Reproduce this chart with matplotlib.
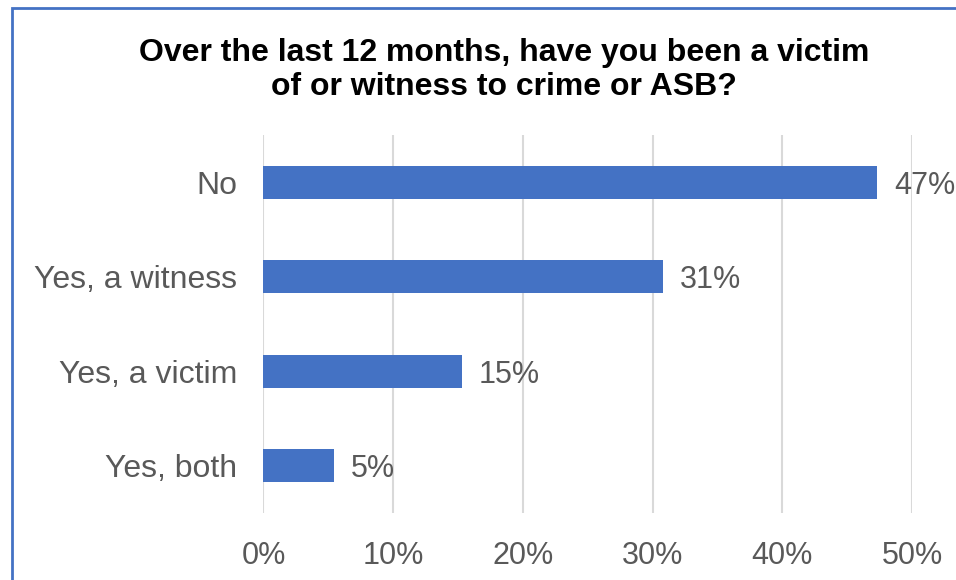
import matplotlib.pyplot as plt
from matplotlib.patches import Rectangle
from matplotlib.ticker import FuncFormatter

plt.rcParams['font.family'] = ['Liberation Sans', 'DejaVu Sans']

# survey answers, top to bottom
answers = ['No', 'Yes, a witness', 'Yes, a victim', 'Yes, both']
shares = [47.3, 30.8, 15.3, 5.4]

title = 'Over the last 12 months, have you been a victim\nof or witness to crime or ASB?'

bar_color = '#4472C4'
text_color = '#595959'
grid_color = '#D9D9D9'

fig = plt.figure(figsize=(9.56, 5.8), dpi=100)
ax = fig.add_axes([0.2756, 0.1155, 0.954 - 0.2756, 0.7672 - 0.1155])

pos = list(range(len(answers)))
bars = ax.barh(pos, shares, height=0.35, color=bar_color, zorder=3)
ax.set_ylim(len(answers) - 0.5, -0.5)
ax.set_xlim(0, 50)
ax.set_xticks([0, 10, 20, 30, 40, 50])
ax.xaxis.set_major_formatter(FuncFormatter(lambda v, p: f'{v:.0f}%'))
ax.set_yticks(pos)
ax.set_yticklabels(answers)

ax.grid(axis='x', color=grid_color, linewidth=1.5, zorder=0)
ax.tick_params(axis='both', length=0, colors=text_color)
ax.tick_params(axis='x', labelsize=22, pad=20)
ax.tick_params(axis='y', labelsize=23, pad=19)
for s in ax.spines.values():
    s.set_visible(False)

for b, v in zip(bars, shares):
    ax.text(b.get_width() + 1.3, b.get_y() + b.get_height() / 2, f'{v:.0f}%',
            va='center_baseline', ha='left', fontsize=22, color=text_color,
            zorder=4)

fig.text(0.527, 1 - 38 / 580, title, ha='center', va='top', fontsize=23,
         fontweight='bold', color='black', linespacing=1.16)

# chart frame, runs off the right and bottom edges
fig.patches.append(Rectangle((12 / 956, -0.05), 1.1, 1 - 8 / 580 + 0.05,
                             transform=fig.transFigure, fill=False,
                             edgecolor='#4472C4', linewidth=2))

fig.savefig('out.png', dpi=100)
